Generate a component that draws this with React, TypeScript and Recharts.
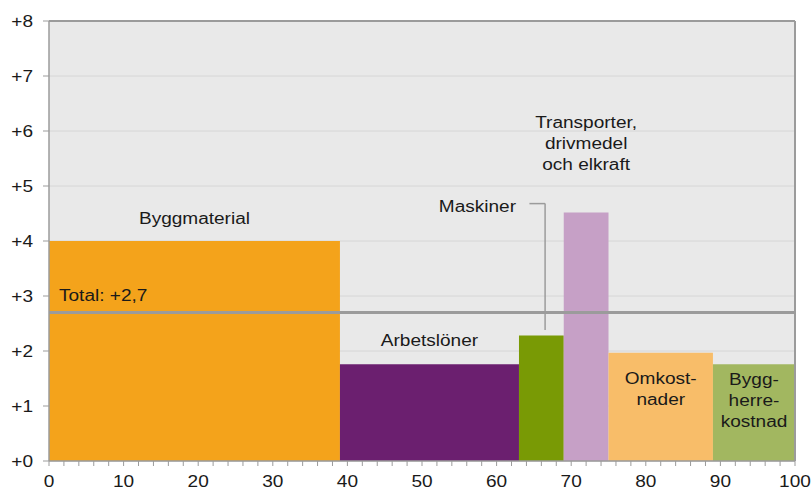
import React from 'react';
import {
  ComposedChart,
  XAxis,
  YAxis,
  CartesianGrid,
  ReferenceArea,
  ReferenceLine,
  ReferenceDot,
} from 'recharts';

// ---- data ----
const categories = [
  'Byggmaterial',
  'Arbetslöner',
  'Maskiner',
  'Transporter, drivmedel och elkraft',
  'Omkostnader',
  'Byggherrekostnad',
];
const weights = [39, 24, 6, 6, 14, 11];
const changes = [4.0, 1.76, 2.28, 4.52, 1.97, 1.76];
const totalChange = 2.7;
const totalLabel = 'Total: +2,7';
const labelLines = [
  ['Byggmaterial'],
  ['Arbetslöner'],
  ['Maskiner'],
  ['Transporter,', 'drivmedel', 'och elkraft'],
  ['Omkost-', 'nader'],
  ['Bygg-', 'herre-', 'kostnad'],
];
const yTicks = [0, 1, 2, 3, 4, 5, 6, 7, 8];
const xTicks = [
  0, 2, 4, 6, 8, 10, 12, 14, 16, 18, 20, 22, 24, 26, 28, 30, 32, 34, 36, 38, 40,
  42, 44, 46, 48, 50, 52, 54, 56, 58, 60, 62, 64, 66, 68, 70, 72, 74, 76, 78, 80,
  82, 84, 86, 88, 90, 92, 94, 96, 98, 100,
];

// ---- styles ----
const colors = ['#F4A31B', '#6B1F6F', '#799A05', '#C6A0C6', '#F8BD69', '#A2B760'];
const FONT = "'Liberation Sans', Arial, sans-serif";
const TEXT = '#1a1a1a';
const SX = 1.19;

const starts: number[] = [];
weights.reduce((acc, w) => {
  starts.push(acc);
  return acc + w;
}, 0);

const chartData = categories.map((c, i) => ({
  name: c,
  x: starts[i] + weights[i] / 2,
  y: changes[i],
}));

function Txt({ x, y, anchor = 'middle', children }: any) {
  return (
    <text
      transform={`translate(${x},${y}) scale(${SX},1)`}
      textAnchor={anchor}
      fontSize={16}
      fontFamily={FONT}
      fill={TEXT}
    >
      {children}
    </text>
  );
}

function YTick({ x, y, payload }: any) {
  return (
    <Txt x={x} y={y + 5.7} anchor="end">
      {'+' + payload.value}
    </Txt>
  );
}

function XTick({ x, y, payload }: any) {
  if (payload.value % 10 !== 0) return <g />;
  return <Txt x={x} y={y + 17}>{payload.value}</Txt>;
}

function multi(lines: string[], anchor = 'middle') {
  return (p: any) => (
    <g>
      {lines.map((l, i) => (
        <Txt key={i} x={p.cx} y={p.cy + 5.7 + i * 21} anchor={anchor}>
          {l}
        </Txt>
      ))}
    </g>
  );
}

export default function App() {
  return (
    <div style={{ position: 'absolute', left: 0, top: 0 }}>
      <ComposedChart
        width={812}
        height={490}
        data={chartData}
        margin={{ top: 21, right: 17, bottom: 5, left: 9 }}
      >
        <CartesianGrid vertical={false} fill="#E9E9E9" stroke="#D6D6D6" />
        <XAxis
          type="number"
          dataKey="x"
          domain={[0, 100]}
          ticks={xTicks}
          interval={0}
          allowDataOverflow
          height={24}
          tickSize={5}
          tickMargin={4}
          axisLine={{ stroke: '#9B9B9B', strokeWidth: 1.5 }}
          tickLine={{ stroke: '#9B9B9B' }}
          tick={<XTick />}
        />
        <YAxis
          type="number"
          domain={[0, 8]}
          ticks={yTicks}
          interval={0}
          allowDataOverflow
          width={40}
          tickSize={6}
          tickMargin={10}
          axisLine={{ stroke: '#9B9B9B', strokeWidth: 1.5 }}
          tickLine={{ stroke: '#9B9B9B' }}
          tick={<YTick />}
        />
        {categories.map((c, i) => (
          <ReferenceArea
            key={c}
            x1={starts[i]}
            x2={starts[i] + weights[i]}
            y1={0}
            y2={changes[i]}
            fill={colors[i]}
            fillOpacity={1}
            stroke="none"
            ifOverflow="visible"
          />
        ))}
        <ReferenceLine
          segment={[
            { x: 64.4, y: 4.68 },
            { x: 66.5, y: 4.68 },
          ]}
          stroke="#9B9B9B"
          strokeWidth={1.5}
        />
        <ReferenceLine
          segment={[
            { x: 66.5, y: 4.68 },
            { x: 66.5, y: 2.38 },
          ]}
          stroke="#9B9B9B"
          strokeWidth={1.5}
        />
        <ReferenceLine y={totalChange} stroke="#9B9B9B" strokeWidth={3} />
        <ReferenceLine y={8} stroke="#9B9B9B" strokeWidth={2} />
        <ReferenceLine x={100} stroke="#9B9B9B" strokeWidth={2} />
        <ReferenceDot x={19.5} y={4.42} r={0} shape={multi(labelLines[0])} />
        <ReferenceDot x={51} y={2.19} r={0} shape={multi(labelLines[1])} />
        <ReferenceDot x={62.6} y={4.64} r={0} shape={multi(labelLines[2], 'end')} />
        <ReferenceDot x={72} y={6.16} r={0} shape={multi(labelLines[3])} />
        <ReferenceDot x={82} y={1.51} r={0} shape={multi(labelLines[4])} />
        <ReferenceDot x={94.5} y={1.49} r={0} shape={multi(labelLines[5])} />
        <ReferenceDot x={1.34} y={3.02} r={0} shape={multi([totalLabel], 'start')} />
      </ComposedChart>
    </div>
  );
}
